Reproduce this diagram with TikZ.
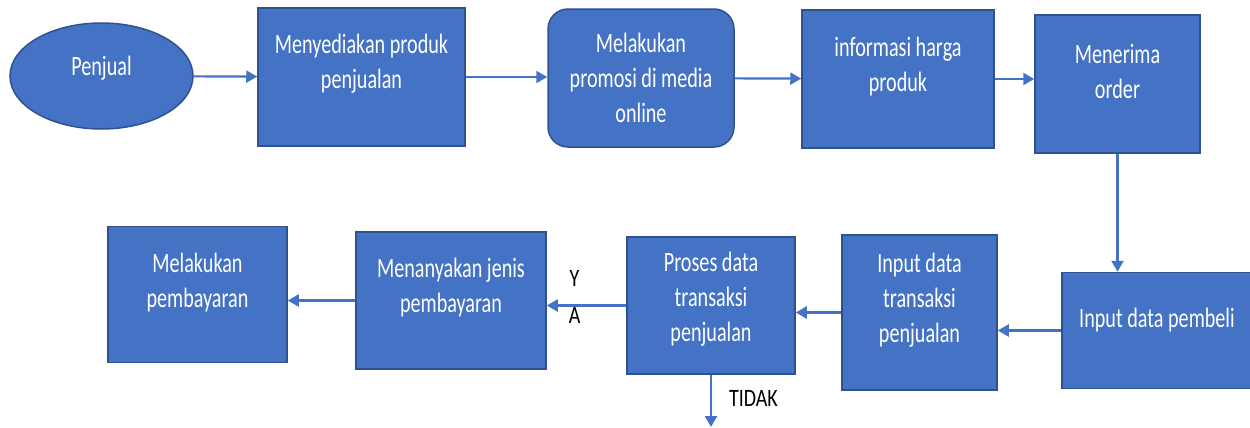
\documentclass[tikz,border=0pt]{standalone}
\usepackage{fontspec}
\setmainfont{Carlito}[FakeStretch=0.72]
\newfontfamily\tagfont{Carlito}[FakeStretch=0.8]
\usepackage{tikz}
\usetikzlibrary{arrows.meta,shapes}
\definecolor{boxblue}{HTML}{4472C4}
\definecolor{boxedge}{HTML}{2F528F}
\newcommand{\boxfont}{\fontsize{28bp}{35bp}\selectfont}
\newcommand{\tagsize}{\fontsize{25bp}{37bp}\selectfont}
\tikzset{
  box/.style={draw=boxedge,line width=1.5bp,fill=boxblue,inner sep=0pt},
  boxtext/.style={text=white,align=center,font=\boxfont,inner sep=0pt},
  flow/.style={-{Triangle[length=11bp,width=12bp]},draw=boxblue,line width=2.2bp},
  tag/.style={text=black,align=center,font=\tagfont\tagsize,inner sep=0pt}
}

\begin{document}
\begin{tikzpicture}
\useasboundingbox (0bp,0bp) rectangle (1250bp,-428bp);

\node (penjual) at (101.5bp,-76bp)[box,ellipse,minimum width=183bp,minimum height=106bp,label={[boxtext,yshift=8bp]center:Penjual}] {};
\node (produk) at (361.5bp,-77bp)[box,minimum width=207bp,minimum height=138bp,label={[boxtext,yshift=13bp]center:Menyediakan produk\\penjualan}] {};
\node (promosi) at (641bp,-78bp)[box,rounded corners=20bp,minimum width=186bp,minimum height=138bp,label={[boxtext]center:Melakukan\\promosi di media\\online}] {};
\node (harga) at (898bp,-79bp)[box,minimum width=192bp,minimum height=138bp,label={[boxtext,yshift=12bp]center:informasi harga\\produk}] {};
\node (order) at (1117.5bp,-84bp)[box,minimum width=165bp,minimum height=138bp,label={[boxtext,yshift=13bp]center:Menerima\\order}] {};
\node (pembeli) at (1157bp,-330.5bp)[box,minimum width=190bp,minimum height=116bp,label={[boxtext,yshift=10bp]center:Input data pembeli}] {};
\node (inpt) at (919.5bp,-312.5bp)[box,minimum width=155bp,minimum height=155bp,label={[boxtext,yshift=12bp]center:Input data\\transaksi\\penjualan}] {};
\node (proses) at (711bp,-305.5bp)[box,minimum width=168bp,minimum height=137bp,label={[boxtext,yshift=6bp]center:Proses data\\transaksi\\penjualan}] {};
\node (tanya) at (451bp,-300.5bp)[box,minimum width=190bp,minimum height=137bp,label={[boxtext,yshift=13bp]center:Menanyakan jenis\\pembayaran}] {};
\node (bayar) at (197.5bp,-294.5bp)[box,minimum width=179bp,minimum height=136bp,label={[boxtext,yshift=12bp]center:Melakukan\\pembayaran}] {};
\coordinate (tidak) at (711bp,-427bp);

\draw [flow] (penjual) -- (produk);
\draw [flow] (produk) -- (produk -| promosi.west);
\draw [flow] (promosi) -- (harga);
\draw [flow] (harga) -- (harga -| order.west);
\draw [flow] (order) -- (order |- pembeli.north);
\draw [flow] (pembeli) -- (pembeli -| inpt.east);
\draw [flow] (inpt) -- (inpt -| proses.east);
\draw [flow] (proses) -- (proses -| tanya.east) node[tag,pos=0.65,yshift=9bp] {Y\\A};
\draw [flow] (tanya) -- (tanya -| bayar.east);
\draw [flow] (proses.south) -- (tidak) node[tag,pos=0.46,anchor=west,xshift=17bp] {TIDAK};
\end{tikzpicture}
\end{document}
